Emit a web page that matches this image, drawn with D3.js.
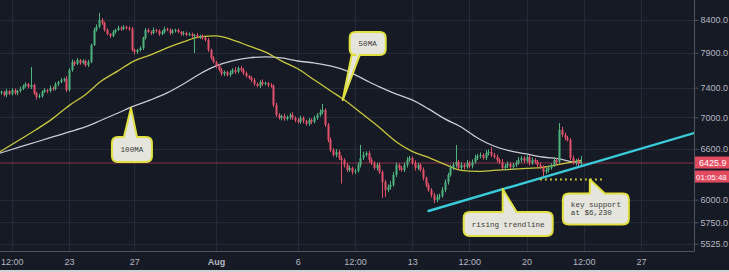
<!DOCTYPE html>
<html><head><meta charset="utf-8">
<script src="https://cdn.jsdelivr.net/npm/d3@7"></script>
<style>html,body{margin:0;padding:0;background:#161a25;overflow:hidden}svg{display:block}</style>
</head><body><svg id="c" width="729" height="272"></svg>
<script>
// ---------------- DATA ----------------
const candleStart = "2018-07-18T20:00:00Z";
const candleHours = 4;
const firstOpen = 7330;
const closes = [
7341,7300,7354,7313,7368,7327,7354,7382,
7424,7451,7410,7437,
7327,7272,7286,
7341,7368,7354,7396,7382,
7451,7479,7507,7522,7368,
7649,7765,7736,7794,
7750,7779,7721,7765,
8016,8244,
8291,8400,8353,
8244,8183,8152,8213,
8244,8275,8260,8291,8275,
8260,7941,7912,7941,7971,
8122,8244,
8213,8198,8244,8229,8183,
8213,8260,8244,8198,8229,
8244,8213,8183,8198,8167,
8183,8152,8167,8137,
8152,8122,8091,
7941,7823,7765,7707,
7649,7592,7621,7578,
7606,7649,7621,7678,7649,
7606,7564,7536,7507,
7451,7424,7479,7451,
7465,7437,7424,
7164,7031,
6992,7018,6979,7005,7031,6992,
6966,6940,6992,6953,6914,6966,
6940,6992,7031,7071,7097,
6901,6710,6585,
6524,6561,6487,6463,
6403,6343,6367,6320,6332,
6403,6487,6524,6548,6463,
6427,6367,6403,6320,
6202,6110,6144,6168,
6284,6403,6367,
6343,6403,6463,6487,
6427,6367,6403,6343,
6249,6168,6110,6053,5997,
6031,6042,6110,6202,
6284,6367,6403,
6439,6367,6403,6379,
6427,6391,6439,6487,6512,
6524,6487,6548,6561,6524,
6499,6463,6439,6367,
6391,6415,6379,6403,6427,
6463,6487,6451,6499,6427,
6463,6439,6403,6379,6320,
6343,6367,6403,6463,6439,
6837,
6773,6735,6710,
6487,
6427,6451,6415,6425.9
];
const wickUp = [
20,15,30,10,25,20,15,30,20,25,
15,255,20,15,30,20,25,15,35,20,
25,15,30,20,40,25,35,20,30,15,
25,20,30,20,35,40,110,30,20,25,
15,30,20,35,25,30,20,25,30,20,
15,25,20,30,25,20,40,15,25,30,
35,20,25,30,20,25,15,30,20,25,
20,15,30,20,25,15,30,20,25,15,
25,30,20,15,35,25,40,20,30,25,
20,15,25,30,20,25,35,20,15,25,
20,30,25,15,30,20,25,35,20,25,
30,20,15,25,20,30,25,35,80,20,
25,30,20,35,25,30,20,25,30,15,
25,30,160,40,20,25,30,20,25,30,
20,25,30,45,35,30,20,25,30,35,
25,20,30,25,20,30,15,25,20,25,
30,25,35,30,25,40,30,208,25,30,
20,35,25,30,40,25,30,20,35,30,
60,25,30,20,35,25,30,20,25,30,
35,25,20,30,25,30,20,25,30,20,
25,30,20,35,25,90,40,30,25,20,
30,25,35,86
];
const wickDown = [
25,20,30,15,20,25,30,20,15,25,
20,30,25,35,20,25,15,30,20,25,
20,30,15,25,30,20,25,30,15,25,
20,25,30,20,15,25,20,30,25,20,
30,20,25,15,30,20,25,30,20,35,
25,20,30,25,15,30,20,25,30,20,
25,20,30,15,25,20,30,25,20,15,
25,255,20,30,25,20,30,25,20,30,
20,25,30,20,25,15,30,20,25,30,
25,20,30,25,20,30,25,20,30,25,
30,25,20,30,25,20,35,25,30,20,
25,30,20,25,30,20,25,20,30,25,
30,25,20,30,25,280,30,25,20,30,
25,20,30,25,20,30,25,20,30,25,
180,80,25,30,20,25,30,20,25,30,
20,25,30,25,20,30,25,20,30,35,
25,30,20,25,30,20,25,30,20,25,
30,20,25,30,20,25,30,20,25,30,
25,20,30,25,20,30,25,20,30,25,
20,30,25,20,30,25,20,30,25,60,
25,30,20,25,30,20,25,30,20,25,
20,30,25,25
];
const maBase = "2018-07-23T00:00:00Z";
const maDayOffsets = [-5,-4,-3,-2,-1,0,1,2,3,4,5,6,7,8,9,10,11,12,13,14,15,16,17,18,19,20,21,22,23,24,25,26,27,28,29,30,31,31.33];
const ma50 = [6469,6591,6715,6842,6983,7155,7303,7495,7636,7781,7869,7973,8063,8138,8153,8093,8002,7913,7781,7666,7510,7358,7208,7036,6868,6690,6567,6494,6409,6338,6326,6338,6350,6362,6374,6409,6445,6457];
const ma100 = [6499,6560,6623,6684,6747,6811,6875,6965,7057,7151,7232,7327,7451,7592,7707,7779,7823,7838,7823,7779,7750,7707,7635,7522,7410,7313,7232,7111,6979,6875,6734,6634,6573,6536,6499,6475,6438,6438];
const priceTicks = [8400,7900,7400,7000,6600,6000,5750,5525];
const timeTicks = ["2018-07-19T12:00:00Z","2018-07-23T00:00:00Z","2018-07-27T00:00:00Z","2018-08-01T00:00:00Z","2018-08-06T00:00:00Z","2018-08-09T12:00:00Z","2018-08-13T00:00:00Z","2018-08-16T12:00:00Z","2018-08-20T00:00:00Z","2018-08-23T12:00:00Z","2018-08-27T00:00:00Z"];
const timeTickLabels = ["12:00","23","27","Aug","6","12:00","13","12:00","20","12:00","27"];
const lastPrice = 6425.9;
const countdown = "01:05:48";
const trendTimes = ["2018-08-14T00:00:00Z","2018-08-30T06:00:00Z"];
const trendPrices = [5874,6797];
const supportLevel = 6230;
const supportTimes = ["2018-08-20T20:00:00Z","2018-08-24T19:00:00Z"];
const calloutTexts = [["100MA"],["50MA"],["rising trendline"],["key support","at $6,230"]];
const calloutTipTimes = ["2018-07-26T19:00:00Z","2018-08-08T18:00:00Z","2018-08-18T13:00:00Z","2018-08-23T21:00:00Z"];
const calloutTipPrices = [7125,7230,6120,6230];

// ---------------- LAYOUT ----------------
const W = 729, H = 272, plotW = 694, plotH = 251;
const svg = d3.select("#c");
svg.append("rect").attr("width",W).attr("height",H).attr("fill","#161a25");

const x = d3.scaleUtc().domain([new Date("2018-07-18T18:40:00Z"), new Date("2018-08-30T06:00:00Z")]).range([0, plotW]);
const y = d3.scaleLog().domain([5450, 8720]).range([plotH, 0]);

svg.append("clipPath").attr("id","plot").append("rect").attr("width",plotW).attr("height",plotH);

// grid
const grid = svg.append("g");
grid.selectAll(".hg").data(priceTicks).enter().append("line")
  .attr("x1",0).attr("x2",plotW).attr("y1",d=>Math.round(y(d))+0.5).attr("y2",d=>Math.round(y(d))+0.5)
  .attr("stroke","#262a37").attr("stroke-width",1);
grid.selectAll(".vg").data(timeTicks).enter().append("line")
  .attr("y1",0).attr("y2",plotH).attr("x1",d=>Math.round(x(new Date(d)))+0.5).attr("x2",d=>Math.round(x(new Date(d)))+0.5)
  .attr("stroke","#262a37").attr("stroke-width",1);

const plot = svg.append("g").attr("clip-path","url(#plot)");

// last price line
plot.append("line").attr("x1",0).attr("x2",plotW)
  .attr("y1",y(lastPrice)).attr("y2",y(lastPrice))
  .attr("stroke","#a3344c").attr("stroke-width",1).attr("opacity",0.85);

// MAs
const maDate = d => new Date(+new Date(maBase) + d*86400e3);
const line = d3.line().x(d=>x(d[0])).y(d=>y(d[1])).curve(d3.curveMonotoneX);
plot.append("path").attr("d", line(maDayOffsets.map((d,i)=>[maDate(d), ma100[i]])))
  .attr("fill","none").attr("stroke","#c9cad2").attr("stroke-width",1.3);
plot.append("path").attr("d", line(maDayOffsets.map((d,i)=>[maDate(d), ma50[i]])))
  .attr("fill","none").attr("stroke","#c8c83c").attr("stroke-width",1.3);

// candles
const t0 = new Date(candleStart);
const candles = closes.map((c,i)=>{
  const o = i ? closes[i-1] : firstOpen;
  return {t:new Date(+t0 + i*candleHours*3600e3), o, c, h:Math.max(o,c)+wickUp[i], l:Math.min(o,c)-wickDown[i]};
});
const up = "#4fb37f", dn = "#e3506a";
const cg = plot.append("g");
candles.forEach(d=>{
  const cx = Math.round(x(d.t));
  const col = d.c >= d.o ? up : dn;
  cg.append("line").attr("x1",cx+0.5).attr("x2",cx+0.5).attr("y1",y(d.h)).attr("y2",y(d.l))
    .attr("stroke",col).attr("stroke-width",1);
  const yt = y(Math.max(d.o,d.c)), yb = y(Math.min(d.o,d.c));
  cg.append("rect").attr("x",cx-0.5).attr("width",2).attr("y",yt).attr("height",Math.max(1,yb-yt)).attr("fill",col);
});

// trendline
plot.append("line")
  .attr("x1",x(new Date(trendTimes[0]))).attr("y1",y(trendPrices[0]))
  .attr("x2",x(new Date(trendTimes[1]))).attr("y2",y(trendPrices[1]))
  .attr("stroke","#3acbd9").attr("stroke-width",2.4).attr("stroke-linecap","round");

// support dotted
plot.append("line")
  .attr("x1",x(new Date(supportTimes[0]))).attr("x2",x(new Date(supportTimes[1])))
  .attr("y1",y(supportLevel)).attr("y2",y(supportLevel))
  .attr("stroke","#e6e23c").attr("stroke-width",2).attr("stroke-dasharray","1.6,3.4");

// callouts (box placement relative to tip, in px)
const calloutBoxes = [
  {dx:-19, dy:29, w:40, h:25, side:"top", a:-7, b:6},
  {dx:7, dy:-68, w:36, h:23, side:"bottom", a:9, b:17},
  {dx:-39, dy:23, w:89, h:24, side:"top", a:0, b:14},
  {dx:-27, dy:14, w:66, h:31, side:"top", a:0, b:15}
];
function calloutPath(tx,ty,c){
  const X = tx + c.dx, Y = ty + c.dy, w = c.w, h = c.h, r = 6;
  let p = `M${X+r},${Y}`;
  if (c.side==="top") p += `L${tx+c.a},${Y}L${tx},${ty}L${tx+c.b},${Y}`;
  p += `L${X+w-r},${Y}Q${X+w},${Y} ${X+w},${Y+r}L${X+w},${Y+h-r}Q${X+w},${Y+h} ${X+w-r},${Y+h}`;
  if (c.side==="bottom") p += `L${tx+c.b},${Y+h}L${tx},${ty}L${tx+c.a},${Y+h}`;
  p += `L${X+r},${Y+h}Q${X},${Y+h} ${X},${Y+h-r}L${X},${Y+r}Q${X},${Y} ${X+r},${Y}Z`;
  return p;
}
const cl = svg.append("g");
calloutTexts.forEach((lines,i)=>{
  const tx = x(new Date(calloutTipTimes[i])), ty = y(calloutTipPrices[i]);
  const c = calloutBoxes[i];
  cl.append("path").attr("d",calloutPath(tx,ty,c)).attr("fill","#e5e5dd")
    .attr("stroke","#e0e03e").attr("stroke-width",2).attr("stroke-linejoin","round");
  const X = tx + c.dx, Y = ty + c.dy;
  if (lines.length===1){
    cl.append("text").attr("x",X+c.w/2).attr("y",Y+c.h/2+2.5).attr("text-anchor","middle")
      .attr("font-family","Liberation Mono, DejaVu Sans Mono, monospace").attr("font-size",7.6)
      .attr("fill","#3a3a3a").text(lines[0]);
  } else {
    lines.forEach((t,j)=>{
      cl.append("text").attr("x",X+8).attr("y",Y+13+j*8.5)
        .attr("font-family","Liberation Mono, DejaVu Sans Mono, monospace").attr("font-size",7.6)
        .attr("fill","#3a3a3a").text(t);
    });
  }
});

// axes
const axisCol = "#50545f", textCol = "#b4b7c0";
svg.append("line").attr("x1",plotW+0.5).attr("x2",plotW+0.5).attr("y1",0).attr("y2",plotH+0.5).attr("stroke",axisCol);
svg.append("line").attr("x1",0).attr("x2",plotW+0.5).attr("y1",plotH+0.5).attr("y2",plotH+0.5).attr("stroke",axisCol);
const yAxis = d3.axisRight(y).tickValues(priceTicks).tickFormat(d3.format(".1f")).tickSize(4).tickPadding(2);
const ya = svg.append("g").attr("transform",`translate(${plotW+0.5},0)`).call(yAxis);
ya.select(".domain").remove();
ya.selectAll("line").attr("stroke",axisCol);
ya.selectAll("text").attr("fill",textCol).attr("font-family","Liberation Sans, Arial, sans-serif").attr("font-size",9);

const xAxis = d3.axisBottom(x).tickValues(timeTicks.map(d=>new Date(d)))
  .tickFormat((d,i)=>timeTickLabels[i]).tickSize(0).tickPadding(7);
const xa = svg.append("g").attr("transform",`translate(0,${plotH+0.5})`).call(xAxis);
xa.select(".domain").remove();
xa.selectAll("text").attr("fill",textCol).attr("font-family","Liberation Sans, Arial, sans-serif").attr("font-size",9)
  .attr("font-weight",(d,i)=>timeTickLabels[i]==="Aug"?"bold":"normal");

// last price labels
const ly = y(lastPrice);
svg.append("rect").attr("x",plotW+1).attr("y",ly-6.5).attr("width",W-plotW-1).attr("height",12).attr("fill","#e24a60");
svg.append("text").attr("x",plotW+5).attr("y",ly+3.3).attr("fill","#ffffff")
  .attr("font-family","Liberation Sans, Arial, sans-serif").attr("font-size",9).text(lastPrice.toFixed(1));
svg.append("rect").attr("x",plotW+1).attr("y",ly+7.5).attr("width",W-plotW-1).attr("height",12).attr("fill","#e24a60");
svg.append("text").attr("x",plotW+2).attr("y",ly+16.8).attr("fill","#ffffff")
  .attr("font-family","Liberation Sans, Arial, sans-serif").attr("font-size",7.9).text(countdown);

// bottom border strip
svg.append("rect").attr("x",0).attr("y",270).attr("width",W).attr("height",2).attr("fill","#cfd2d7");
</script></body></html>
